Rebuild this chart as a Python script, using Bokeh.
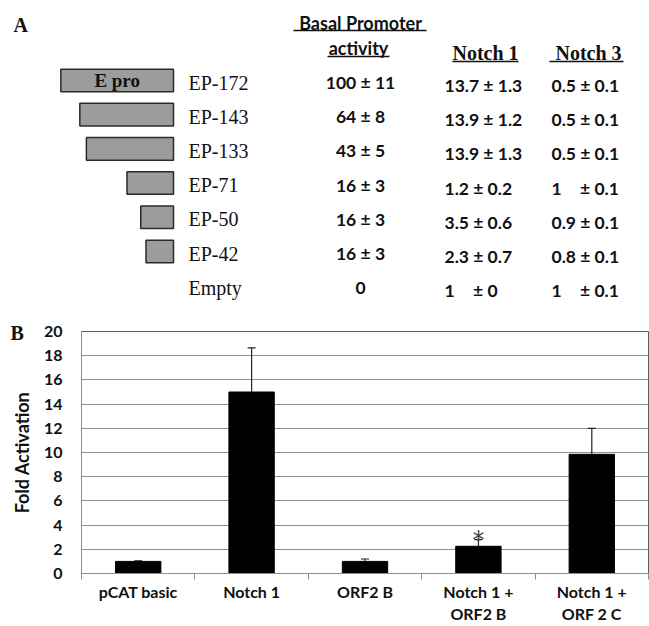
import numpy as np
from bokeh.plotting import figure
from bokeh.models import Range1d, ColumnDataSource, Whisker, TeeHead, FixedTicker
from bokeh.layouts import column
from bokeh.embed import file_html
from bokeh.resources import INLINE
from bokeh.core.properties import value

# ---------------- Panel A data ----------------
constructs = ["EP-172", "EP-143", "EP-133", "EP-71", "EP-50", "EP-42", "Empty"]
fragment_lengths = [172, 143, 133, 71, 50, 42]          # bp, drawn as boxes
basal_mean = [100, 64, 43, 16, 16, 16, 0]
basal_sd = [11, 8, 5, 3, 3, 3, None]
notch1_mean = [13.7, 13.9, 13.9, 1.2, 3.5, 2.3, 1]
notch1_sd = [1.3, 1.2, 1.3, 0.2, 0.6, 0.7, 0]
notch3_mean = [0.5, 0.5, 0.5, 1, 0.9, 0.8, 1]
notch3_sd = [0.1, 0.1, 0.1, 0.1, 0.1, 0.1, 0.1]

# ---------------- Panel B data ----------------
categories = ["pCAT basic", "Notch 1", "ORF2 B", "Notch 1 +\nORF2 B", "Notch 1 +\nORF 2 C"]
fold_activation = [1.0, 15.0, 1.0, 2.25, 9.85]
fold_error = [0.05, 3.65, 0.2, 0.55, 2.15]
significant = [False, False, False, True, False]
y_ticks = [0, 2, 4, 6, 8, 10, 12, 14, 16, 18, 20]

SERIF = "Liberation Serif"
SANS = "Lato"
W = 649
OVERLAP = 20
HA = 342
HB = 626 - HA + OVERLAP

# ================= Panel A =================
ROW0 = 82.0      # pixel of first row
ROWSTEP = 34.2   # pixel per row


def prow(p):
    return (p - ROW0) / ROWSTEP


pa = figure(width=W, height=HA, x_range=Range1d(0, W),
            y_range=Range1d(prow(HA), prow(0)),
            x_axis_location=None, y_axis_location=None,
            output_backend="svg", toolbar_location=None, min_border=0)
pa.frame_align = False
pa.grid.visible = False
pa.outline_line_color = None
# promoter coordinate axis (bp), fragments end at 0
BP_PX = 0.655
BOX_END = 173
pa.extra_x_ranges = {"bp": Range1d(-BOX_END / BP_PX, (W - BOX_END) / BP_PX)}

rows = np.arange(len(constructs))
box_rows = rows[:len(fragment_lengths)] - 0.06
pa.quad(left=[-L for L in fragment_lengths], right=0,
        top=box_rows - 0.33, bottom=box_rows + 0.33,
        x_range_name="bp", fill_color="#9c9c9c", line_color="#2a2a2a", line_width=1.5)
pa.text(x=[-fragment_lengths[0] / 2], y=[box_rows[0]], text=["E pro"],
        x_range_name="bp", text_align="center", text_baseline="middle",
        text_font=value(SERIF), text_font_style="bold", text_font_size="19px",
        text_color="#111111")

pa.text(x=188, y=rows, text=constructs, text_align="left", text_baseline="middle",
        text_font=value(SERIF), text_font_size="20px", text_color="#111111")

basal_txt = [str(m) if s is None else f"{m} ± {s}" for m, s in zip(basal_mean, basal_sd)]


def fmt_n(m, s):
    ms = str(m)
    if isinstance(m, int) and m < 10:
        ms = ms + "\u2008\u2007"
    return f"{ms} ± {s}"


n1_txt = [fmt_n(m, s) for m, s in zip(notch1_mean, notch1_sd)]
n3_txt = [fmt_n(m, s) for m, s in zip(notch3_mean, notch3_sd)]

NUM = dict(text_baseline="middle", text_font=value(SANS), text_font_style="bold",
           text_font_size="17.5px", text_color="#111111")
pa.text(x=360, y=rows, text=basal_txt, text_align="center", **NUM)
pa.text(x=444, y=rows + 0.09, text=n1_txt, text_align="left", **NUM)
pa.text(x=551, y=rows + 0.09, text=n3_txt, text_align="left", **NUM)

# headers
pa.text(x=[13], y=[prow(24)], text=["A"], text_align="left", text_baseline="middle",
        text_font=value(SERIF), text_font_style="bold", text_font_size="20px", text_color="#111111")
pa.text(x=[360, 358], y=[prow(22), prow(47)], text=["Basal Promoter", "activity"],
        text_align="center", text_baseline="middle",
        text_font=value(SANS), text_font_style="bold", text_font_size="18px", text_color="#111111")
pa.text(x=[485, 588], y=[prow(52), prow(52)], text=["Notch 1", "Notch 3"],
        text_align="center", text_baseline="middle",
        text_font=value(SERIF), text_font_style="bold", text_font_size="20px", text_color="#111111")
pa.segment(x0=[293, 327, 452, 549], x1=[426, 389, 518, 623],
           y0=[prow(30), prow(56), prow(61), prow(61)],
           y1=[prow(30), prow(56), prow(61), prow(61)],
           line_color="#111111", line_width=1.5)
# panel letter B (drawn here, it sits left of panel B's frame)
pa.text(x=[10], y=[prow(332)], text=["B"], text_align="left", text_baseline="middle",
        text_font=value(SERIF), text_font_style="bold", text_font_size="20px", text_color="#111111")

# ================= Panel B =================
n = len(categories)
xc = np.arange(n) + 0.5
pb = figure(width=W, height=HB, x_range=Range1d(0, n), y_range=Range1d(0, 20),
            output_backend="svg", toolbar_location=None,
            min_border_top=9, min_border_left=81, min_border_right=1, min_border_bottom=50)
pb.margin = (-OVERLAP, 0, 0, 0)
pb.frame_align = False
pb.border_fill_alpha = 0
pb.outline_line_color = "#5a5a5a"
pb.xgrid.visible = False
pb.ygrid.ticker = FixedTicker(ticks=y_ticks)
pb.ygrid.grid_line_color = "#8f8f8f"
pb.ygrid.grid_line_width = 1

pb.yaxis.ticker = FixedTicker(ticks=y_ticks)
pb.yaxis.axis_label = "Fold Activation"
pb.yaxis.axis_label_text_font = SANS
pb.yaxis.axis_label_text_font_style = "bold"
pb.yaxis.axis_label_text_font_size = "18px"
pb.yaxis.axis_label_text_color = "#111111"
pb.yaxis.axis_label_standoff = 8
pb.yaxis.major_label_text_font = SANS
pb.yaxis.major_label_text_font_style = "bold"
pb.yaxis.major_label_text_font_size = "16px"
pb.yaxis.major_label_text_color = "#111111"
pb.yaxis.major_tick_out = 0
pb.yaxis.major_tick_in = 0
pb.yaxis.minor_tick_line_color = None
pb.yaxis.major_label_standoff = 19
pb.yaxis.axis_line_color = "#8f8f8f"

pb.xaxis.ticker = FixedTicker(ticks=list(xc), minor_ticks=list(range(n + 1)))
pb.xaxis.major_label_overrides = {float(x): c for x, c in zip(xc, categories)}
pb.xaxis.major_tick_line_color = None
pb.xaxis.minor_tick_out = 6
pb.xaxis.minor_tick_in = 0
pb.xaxis.minor_tick_line_color = "#8f8f8f"
pb.xaxis.axis_line_color = "#8f8f8f"
pb.xaxis.major_label_text_font = SANS
pb.xaxis.major_label_text_font_style = "bold"
pb.xaxis.major_label_text_font_size = "16px"
pb.xaxis.major_label_text_color = "#111111"
pb.xaxis.major_label_standoff = 2

src = ColumnDataSource(dict(x=xc, top=fold_activation,
                            upper=np.array(fold_activation) + np.array(fold_error)))
pb.vbar(x="x", top="top", width=0.4, source=src, fill_color="black", line_color="black")
pb.add_layout(Whisker(source=src, base="x", lower="top", upper="upper",
                      upper_head=TeeHead(size=8, line_color="#222222", line_width=1.2),
                      lower_head=None, line_color="#222222", line_width=1.2))

sig_x = [x for x, s in zip(xc, significant) if s]
sig_y = [f + e for f, e, s in zip(fold_activation, fold_error, significant) if s]
pb.text(x=sig_x, y=sig_y, text=["*"] * len(sig_x), text_align="center",
        text_baseline="alphabetic", y_offset=0,
        text_font=value("DejaVu Sans"), text_font_size="24px", text_color="#444444")

layout = column(pa, pb, spacing=0)
open("out.html", "w").write(file_html(layout, INLINE))
